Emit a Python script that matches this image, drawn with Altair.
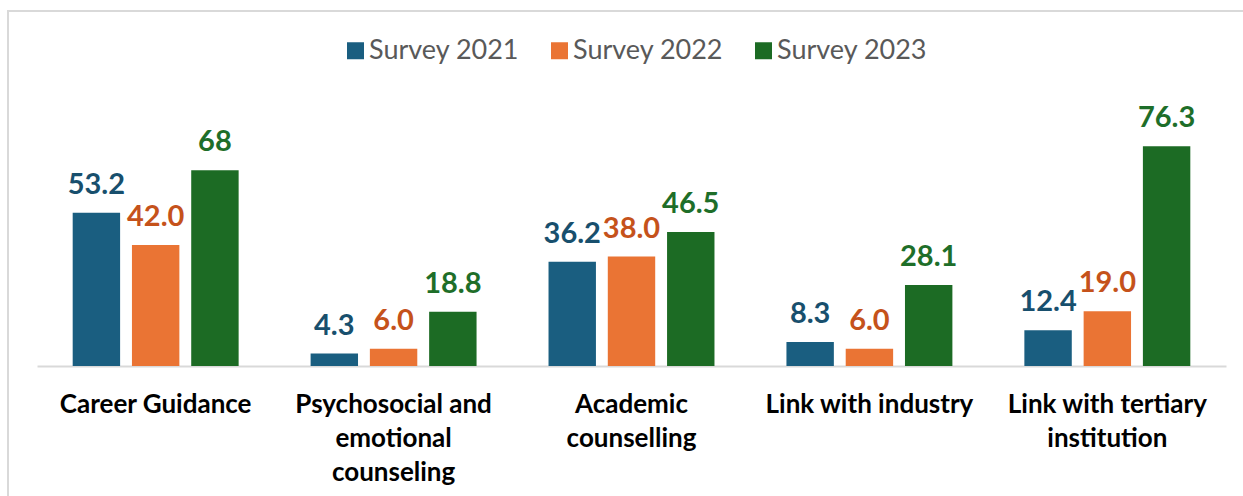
import altair as alt
import pandas as pd

categories = ["Career Guidance", "Psychosocial and emotional counseling",
              "Academic counselling", "Link with industry", "Link with tertiary institution"]
label_lines = ["Career Guidance", "Psychosocial and|emotional|counseling",
               "Academic|counselling", "Link with industry", "Link with tertiary|institution"]
series = ["Survey 2021", "Survey 2022", "Survey 2023"]
v2021 = [53.2, 4.3, 36.2, 8.3, 12.4]
v2022 = [42.0, 6.0, 38.0, 6.0, 19.0]
v2023 = [68, 18.8, 46.5, 28.1, 76.3]
labels2021 = ["53.2", "4.3", "36.2", "8.3", "12.4"]
labels2022 = ["42.0", "6.0", "38.0", "6.0", "19.0"]
labels2023 = ["68", "18.8", "46.5", "28.1", "76.3"]

bar_colors = ["#1a5e80", "#ea7434", "#1c6b24"]
text_colors = ["#184f6d", "#c5521b", "#1e6e29"]

rows = []
for s, vals, labs in zip(series, [v2021, v2022, v2023], [labels2021, labels2022, labels2023]):
    for c, lab_c, v, l in zip(categories, label_lines, vals, labs):
        rows.append({"cat": c, "catlab": lab_c, "series": s, "value": v, "label": l})
df = pd.DataFrame(rows)

label_map = {c: l for c, l in zip(categories, label_lines)}
label_expr = "split({" + ",".join(f"'{c}': '{l}'" for c, l in label_map.items()) + "}[datum.value], '|')"

x = alt.X("cat:N", sort=categories, title=None,
          scale=alt.Scale(paddingInner=0.3025, paddingOuter=0.15),
          axis=alt.Axis(labelExpr=label_expr, labelAngle=0, labelFont="Lato",
                        labelFontSize=26, labelFontWeight="bold", labelColor="#000000",
                        labelLineHeight=34, labelPadding=25, labelLimit=400,
                        ticks=False, domainColor="#d9d9d9", domainWidth=2,
                        labelBaseline="top"))
y = alt.Y("value:Q", title=None, scale=alt.Scale(domain=[0, 100], nice=False),
          axis=None)
xo = alt.XOffset("series:N", sort=series,
                 scale=alt.Scale(paddingInner=0.2, paddingOuter=0))

bars = alt.Chart(df).mark_bar().encode(
    x=x, y=y, xOffset=xo,
    color=alt.Color("series:N", sort=series,
                    scale=alt.Scale(domain=series, range=bar_colors),
                    legend=alt.Legend(title=None, orient="none", direction="horizontal",
                                      legendX=305, legendY=-41, columns=3,
                                      symbolType="square", symbolSize=289,
                                      symbolStrokeWidth=0, labelFont="Lato",
                                      labelFontSize=27, labelColor="#595959",
                                      labelOffset=0, columnPadding=26)),
)

text = alt.Chart(df).mark_text(font="Lato", fontSize=29, fontWeight="bold",
                               baseline="alphabetic", dy=-19).encode(
    x=x, y=y, xOffset=xo, text="label:N",
    color=alt.Color("series:N", sort=series,
                    scale=alt.Scale(domain=series, range=text_colors), legend=None),
)

border = alt.Chart(pd.DataFrame({"a": [0]})).mark_rect(
    fill=None, stroke="#d9d9d9", strokeWidth=2, clip=False).encode(
    x=alt.value(-29), x2=alt.value(1260), y=alt.value(-67), y2=alt.value(500))

chart = alt.layer(border, bars, text).resolve_scale(color="independent").properties(
    width=1189, height=288,
    padding={"left": 37, "top": 78, "right": 17, "bottom": 130},
    autosize=alt.AutoSizeParams(type="none"),
    background="white",
).configure_view(strokeWidth=0, stroke="transparent")

chart.save("out.html", embed_options={"renderer": "svg", "actions": False})
